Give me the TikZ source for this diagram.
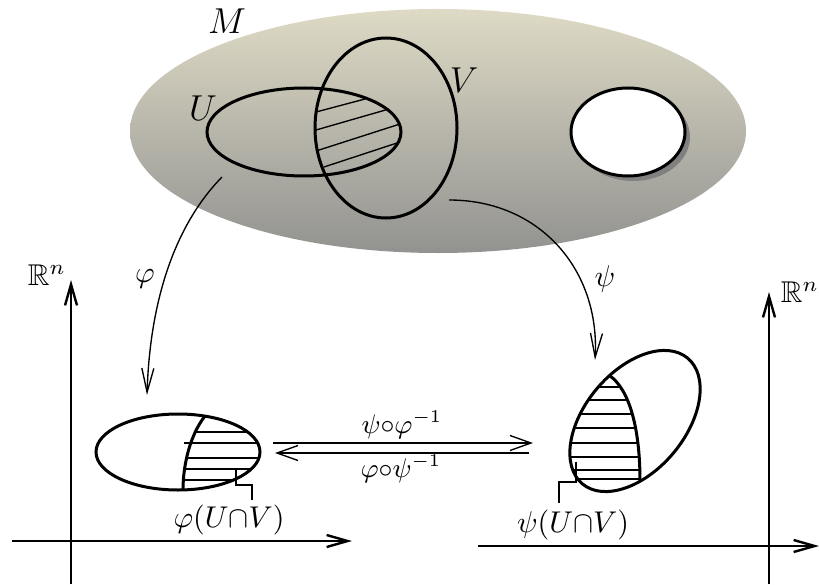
\documentclass[tikz,border=0pt]{standalone}
\usepackage{amsmath}
\usepackage{amssymb}
\usepackage{tikz}
\usetikzlibrary{arrows.meta, calc}

\definecolor{manitop}{RGB}{222,218,197}
\definecolor{manibot}{RGB}{146,146,144}

\begin{document}
\begin{tikzpicture}[
    x=0.333pt, y=-0.333pt,
    region/.style={line width=1pt},
    hatch/.style={line width=0.45pt},
    axis/.style={line width=0.8pt, -{Straight Barb[length=7pt, width=4pt]}},
    chartmap/.style={line width=0.45pt, -{Straight Barb[length=8pt, width=4pt]}},
    transmap/.style={line width=0.45pt, -{Straight Barb[length=7pt, width=5pt]}},
    label/.style={inner sep=1pt}
]
\useasboundingbox (0,0) rectangle (819,584);

% Manifold M
\shade[top color=manitop, bottom color=manibot] (438,131) ellipse [x radius=308, y radius=122];
\node[label] (labM) at (227,21) {\large$M$};

% Hole
\fill[black!50] (633,137) ellipse [x radius=57, y radius=44];
\draw[region, fill=white] (628,132) ellipse [x radius=57, y radius=44];

% U and V
\draw[region] (304,132) ellipse [x radius=97, y radius=44];
\draw[region] (386,128) ellipse [x radius=71, y radius=90];
\node[label] (labU) at (203,108) {\large$U$};
\node[label] (labV) at (464,80) {\large$V$};

% Hatching of U cap V
\draw[hatch] (316,112) -- (365,99);
\draw[hatch] (316,130) -- (389,109);
\draw[hatch] (316,151) -- (400,124);
\draw[hatch] (324,167) -- (400,142);

% Left chart
\draw[axis] (71,584) -- (71,280);
\draw[axis] (12,541) -- (352,541);
\node[label] (labRl) at (47,275) {$\mathbb{R}^n$};

\draw[region] (178,452) ellipse [x radius=82, y radius=38];
\draw[region] (205,416) .. controls (190,435) and (183,465) .. (183,490);
\draw[hatch] (195,432) -- (248,432);
\draw[hatch] (184,443) -- (258,443);
\draw[hatch] (186,458) -- (259,458);
\draw[hatch] (184,469) -- (251,469);
\draw[hatch] (183,480) -- (233,480);
\node[label] (labPhiUV) at (229,520) {$\varphi(U{\cap}V)$};
\draw[hatch] (236,469) -- (236,485) -- (252,485) -- (252,500);

% Right chart
\draw[axis] (769,584) -- (769,292);
\draw[axis] (478,546) -- (819,546);
\node[label] (labRr) at (800,292) {$\mathbb{R}^n$};

\draw[region, rotate around={50:(635,421)}] (635,421) ellipse [x radius=82, y radius=50];
\draw[region] (609.6,375.6) .. controls (630,390) and (640,430) .. (640,481);
\draw[hatch] (598,387) -- (620,387);
\draw[hatch] (588,400) -- (627,400);
\draw[hatch] (580,414) -- (632,414);
\draw[hatch] (574,428) -- (635,428);
\draw[hatch] (571,443) -- (638,443);
\draw[hatch] (570,457) -- (639,457);
\draw[hatch] (573,470) -- (640,470);
\draw[hatch] (578,479) -- (640,479);
\node[label] (labPsiUV) at (573,525) {$\psi(U{\cap}V)$};
\draw[hatch] (576,462) -- (576,482) -- (559,482) -- (559,503);

% Charts
\coordinate (phiStart) at (222,177);
\coordinate (phiEnd) at (147,395);
\coordinate (psiStart) at (449,200);
\coordinate (psiEnd) at (595,360);
\draw[chartmap] (phiStart) .. controls (175,225) and (150,300) .. (phiEnd);
\draw[chartmap] (psiStart) .. controls (540,200) and (600,270) .. (psiEnd);
\node[label] (labPhi) at (145,279) {$\varphi$};
\node[label] (labPsi) at (605,279) {$\psi$};

% Transition maps
\coordinate (leftImg) at (273,443);
\coordinate (rightImg) at (533,443);
\draw[transmap] (leftImg) -- (rightImg);
\draw[transmap] ($(rightImg)+(-4,10)$) -- ($(leftImg)+(2,10)$);
\node[label] (labPsiPhi) at (402,425) {\small$\psi{\circ}\varphi^{-1}$};
\node[label] (labPhiPsi) at (401,469) {\small$\varphi{\circ}\psi^{-1}$};

\end{tikzpicture}
\end{document}
